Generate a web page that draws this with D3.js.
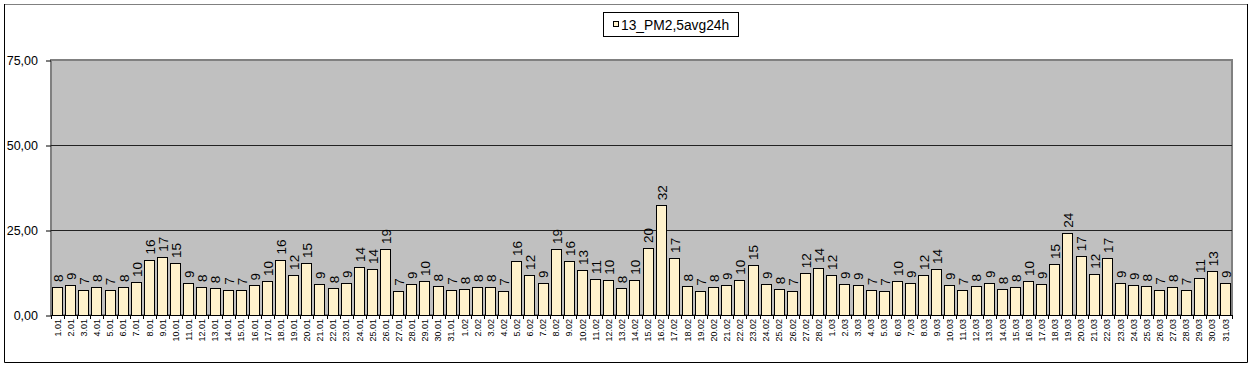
<!DOCTYPE html>
<html>
<head>
<meta charset="utf-8">
<script src="https://cdn.jsdelivr.net/npm/d3@7"></script>
<style>
  html, body { margin: 0; padding: 0; background: #fff; }
  svg { display: block; font-family: "Liberation Sans", Arial, sans-serif; }
</style>
</head>
<body>
<svg id="chart" width="1251" height="366"></svg>
<script>
const categories = [
  "1.01","2.01","3.01","4.01","5.01","6.01","7.01","8.01","9.01","10.01",
  "11.01","12.01","13.01","14.01","15.01","16.01","17.01","18.01","19.01","20.01",
  "21.01","22.01","23.01","24.01","25.01","26.01","27.01","28.01","29.01","30.01","31.01",
  "1.02","2.02","3.02","4.02","5.02","6.02","7.02","8.02","9.02","10.02",
  "11.02","12.02","13.02","14.02","15.02","16.02","17.02","18.02","19.02","20.02",
  "21.02","22.02","23.02","24.02","25.02","26.02","27.02","28.02",
  "1.03","2.03","3.03","4.03","5.03","6.03","7.03","8.03","9.03","10.03",
  "11.03","12.03","13.03","14.03","15.03","16.03","17.03","18.03","19.03","20.03",
  "21.03","22.03","23.03","24.03","25.03","26.03","27.03","28.03","29.03","30.03","31.03"
];
const seriesName = "13_PM2,5avg24h";
const pm25 = [
  8.2, 8.8, 7.4, 8.2, 7.3, 8.2, 9.7, 16.3, 17.1, 15.3,
  9.4, 8.2, 7.9, 7.4, 7.3, 8.7, 10.0, 16.3, 11.8, 15.3,
  9.1, 7.9, 9.4, 14.1, 13.5, 19.4, 7.1, 9.1, 10.0, 8.4, 7.4,
  7.6, 8.2, 8.2, 7.1, 15.9, 11.8, 9.4, 19.4, 15.9, 13.2,
  10.6, 10.4, 7.9, 10.4, 19.7, 32.3, 16.8, 8.4, 7.1, 8.2,
  8.8, 10.4, 14.7, 9.1, 7.6, 7.1, 12.3, 13.8,
  11.8, 9.1, 8.8, 7.3, 7.1, 10.0, 9.4, 11.8, 13.5, 8.8,
  7.3, 8.4, 9.4, 7.6, 8.2, 10.0, 9.1, 15.0, 24.2, 17.3,
  12.1, 16.8, 9.4, 8.8, 8.4, 7.4, 8.2, 7.3, 10.9, 12.9, 9.4
];
const yTicks = [0, 25, 50, 75];
const yTickLabels = ["0,00", "25,00", "50,00", "75,00"];

const svg = d3.select("#chart");
const plot = { left: 51, right: 1232, top: 60, bottom: 315 };

// outer frame
svg.append("line").attr("x1", 4).attr("x2", 1247).attr("y1", 4.5).attr("y2", 4.5)
  .attr("stroke", "#808080");
svg.append("path").attr("d", "M4.5,4 V362.5 H1247.5 V4")
  .attr("fill", "none").attr("stroke", "#000");

const x = d3.scaleBand().domain(categories)
  .range([plot.left, plot.right]).paddingInner(0.16).paddingOuter(0.08);
const y = d3.scaleLinear().domain([0, 75]).range([plot.bottom, plot.top]);

// plot area
svg.append("rect")
  .attr("x", plot.left).attr("y", plot.top)
  .attr("width", plot.right - plot.left).attr("height", plot.bottom - plot.top)
  .attr("fill", "#c0c0c0").attr("stroke", "#808080").attr("stroke-width", 2);

// gridlines
svg.append("g").selectAll("line").data(yTicks.filter(t => t > 0 && t < 75)).join("line")
  .attr("x1", plot.left).attr("x2", plot.right)
  .attr("y1", d => Math.round(y(d)) + 0.5).attr("y2", d => Math.round(y(d)) + 0.5)
  .attr("stroke", "#222").attr("stroke-width", 1);

// bars
svg.append("g").selectAll("rect").data(pm25).join("rect")
  .attr("x", (d, i) => Math.round(x(categories[i])) + 0.5)
  .attr("y", d => Math.round(y(d)) + 0.5)
  .attr("width", Math.round(x.bandwidth()) - 1)
  .attr("height", d => Math.round(y(0)) - Math.round(y(d)))
  .attr("fill", "#fff2cc").attr("stroke", "#000").attr("stroke-width", 1);

// y axis
const yAxis = d3.axisLeft(y).tickValues(yTicks)
  .tickFormat((d, i) => yTickLabels[i]).tickSizeInner(5).tickSizeOuter(0).tickPadding(8);
const gy = svg.append("g").attr("transform", `translate(${plot.left},0.5)`).call(yAxis);
gy.select(".domain").remove();
gy.selectAll(".tick line").attr("stroke", "#000");
gy.selectAll(".tick text").attr("font-size", 12.5).attr("fill", "#000")
  .attr("font-family", "Liberation Sans, Arial, sans-serif");

// x axis baseline
svg.append("line").attr("x1", plot.left).attr("x2", plot.right)
  .attr("y1", plot.bottom + 0.5).attr("y2", plot.bottom + 0.5).attr("stroke", "#000");
// boundary ticks
const gap = x.step() - x.bandwidth();
const bounds = categories.map(c => x(c) - gap / 2).concat([plot.right]);
svg.append("g").selectAll("line").data(bounds).join("line")
  .attr("x1", d => Math.round(d) + 0.5).attr("x2", d => Math.round(d) + 0.5)
  .attr("y1", plot.bottom).attr("y2", plot.bottom + 4).attr("stroke", "#000");

// x labels via axis
const xAxis = d3.axisBottom(x).tickSize(0).tickPadding(0);
const gx = svg.append("g").attr("transform", `translate(0,${plot.bottom})`).call(xAxis);
gx.select(".domain").remove();
gx.selectAll(".tick text")
  .attr("font-size", 9).attr("fill", "#000")
  .attr("font-family", "Liberation Sans, Arial, sans-serif")
  .attr("text-anchor", "end")
  .attr("transform", "rotate(-90)")
  .attr("x", -4).attr("y", 0).attr("dy", "0.35em");

// value labels
svg.append("g").selectAll("text").data(pm25).join("text")
  .attr("transform", (d, i) => `translate(${x(categories[i]) + x.bandwidth() / 2 + 0.5},${y(d) - 5}) rotate(-90)`)
  .attr("text-anchor", "start").attr("dy", "0.36em")
  .attr("font-size", 13.5).attr("fill", "#000")
  .text(d => Math.round(d));

// legend
const lg = svg.append("g");
lg.append("rect").attr("x", 603.5).attr("y", 12.5).attr("width", 135).attr("height", 24)
  .attr("fill", "#fff").attr("stroke", "#000");
lg.append("rect").attr("x", 613.5).attr("y", 21.5).attr("width", 5).attr("height", 5)
  .attr("fill", "#fff2cc").attr("stroke", "#000");
lg.append("text").attr("x", 621).attr("y", 29.5).attr("font-size", 13.8).attr("fill", "#000")
  .text(seriesName);
</script>
</body>
</html>
